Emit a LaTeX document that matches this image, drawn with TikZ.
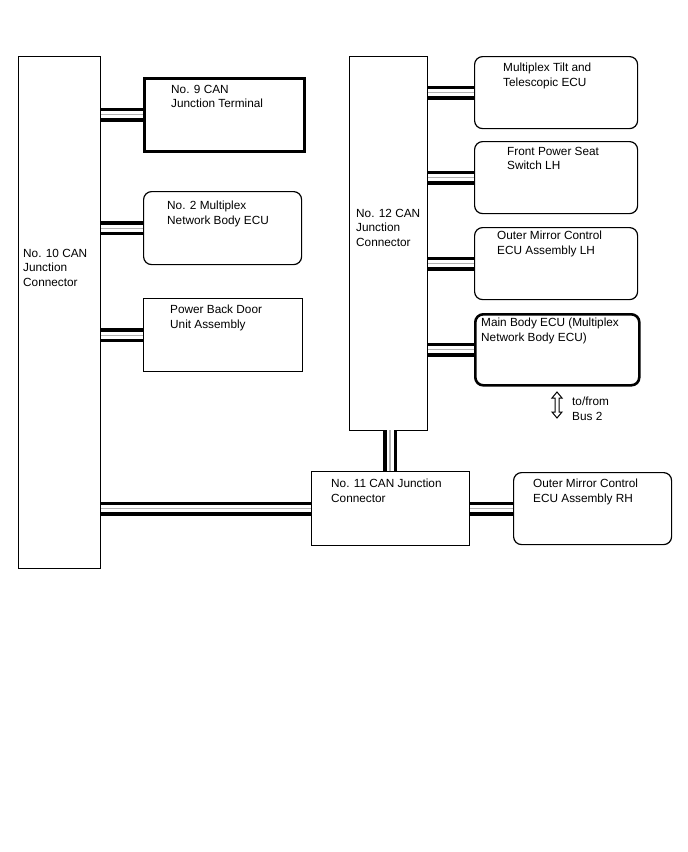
\documentclass[tikz,border=0pt]{standalone}
\usepackage{fontspec}
\setmainfont{Liberation Sans}
\usetikzlibrary{calc}
\begin{document}
\begin{tikzpicture}[x=1pt,y=-1pt,
  box/.style={draw=black,line width=1.2pt,fill=white,inner sep=0pt,anchor=north west},
  rbox/.style={box,rounded corners=8pt},
  heavy/.style={line width=2.6pt},
  txt/.style={inner sep=0pt,anchor=north west,align=left,font=\fontsize{11.8}{14.3}\selectfont},
  bus/.style={preaction={draw=black,line width=14pt},preaction={draw=white,line width=7pt},draw=gray!60,line width=1.2pt}]
\useasboundingbox (0,0) rectangle (688,852);
\fill[white] (0,0) rectangle (688,852);
% left column
\node[box,minimum width=82pt,minimum height=512pt] (n10) at (18,56) {};
\node[box,heavy,minimum width=160pt,minimum height=73pt] (n9) at (143,77) {};
\node[rbox,minimum width=158pt,minimum height=73pt] (n2) at (143,191) {};
\node[box,minimum width=159pt,minimum height=73pt] (pbd) at (143,298) {};
% middle
\node[box,minimum width=78pt,minimum height=374pt] (n12) at (349,56) {};
\node[box,minimum width=158pt,minimum height=74pt] (n11) at (311,471) {};
% right column
\node[rbox,minimum width=163pt,minimum height=72pt] (tilt) at (474,56) {};
\node[rbox,minimum width=163pt,minimum height=72pt] (seat) at (474,141) {};
\node[rbox,minimum width=163pt,minimum height=72pt] (oml) at (474,227) {};
\node[rbox,heavy,minimum width=164pt,minimum height=71pt] (mb) at (474,313) {};
\node[rbox,minimum width=158pt,minimum height=72pt] (omr) at (513,472) {};
% texts
\node[txt] (t10) at (23,249) {No. 10 CAN\\Junction\\Connector};
\node[txt] (t9) at (171,85) {No. 9 CAN\\Junction Terminal};
\node[txt] (t2) at (167,201) {No. 2 Multiplex\\Network Body ECU};
\node[txt] (tpbd) at (170,305) {Power Back Door\\Unit Assembly};
\node[txt] (t12) at (356,209) {No. 12 CAN\\Junction\\Connector};
\node[txt] (t11) at (331,479) {No. 11 CAN Junction\\Connector};
\node[txt] (ttilt) at (503,63) {Multiplex Tilt and\\Telescopic ECU};
\node[txt] (tseat) at (507,147) {Front Power Seat\\Switch LH};
\node[txt] (toml) at (497,231) {Outer Mirror Control\\ECU Assembly LH};
\node[txt] (tmb) at (481,318) {Main Body ECU (Multiplex\\Network Body ECU)};
\node[txt] (tomr) at (533,479) {Outer Mirror Control\\ECU Assembly RH};
\node[txt] (tbus) at (572,397) {to/from\\Bus 2};
% buses
\draw[bus] (n10.east |- n9.west) -- (n9.west);
\draw[bus] (n10.east |- n2.west) -- (n2.west);
\draw[bus] (n10.east |- pbd.west) -- (pbd.west);
\draw[bus] (n10.east |- n11.west) -- (n11.west);
\draw[bus] (n11.east |- omr.west) -- (omr.west);
\draw[bus] (n12.east |- tilt.west) -- (tilt.west);
\draw[bus] (n12.east |- seat.west) -- (seat.west);
\draw[bus] (n12.east |- oml.west) -- (oml.west);
\draw[bus] (n12.east |- mb.west) -- (mb.west);
\coordinate (vb) at (390,430);
\draw[bus] (vb) -- (vb |- n11.north);
% hollow double arrow
\coordinate (ar) at (557,405);
\draw[line width=1pt,fill=white,line join=miter]
  ($(ar)+(0,-13)$) -- ++(5,6) -- ++(-3,0) -- ++(0,14) -- ++(3,0) -- ++(-5,6) -- ++(-5,-6) -- ++(3,0) -- ++(0,-14) -- ++(-3,0) -- cycle;
\end{tikzpicture}
\end{document}
